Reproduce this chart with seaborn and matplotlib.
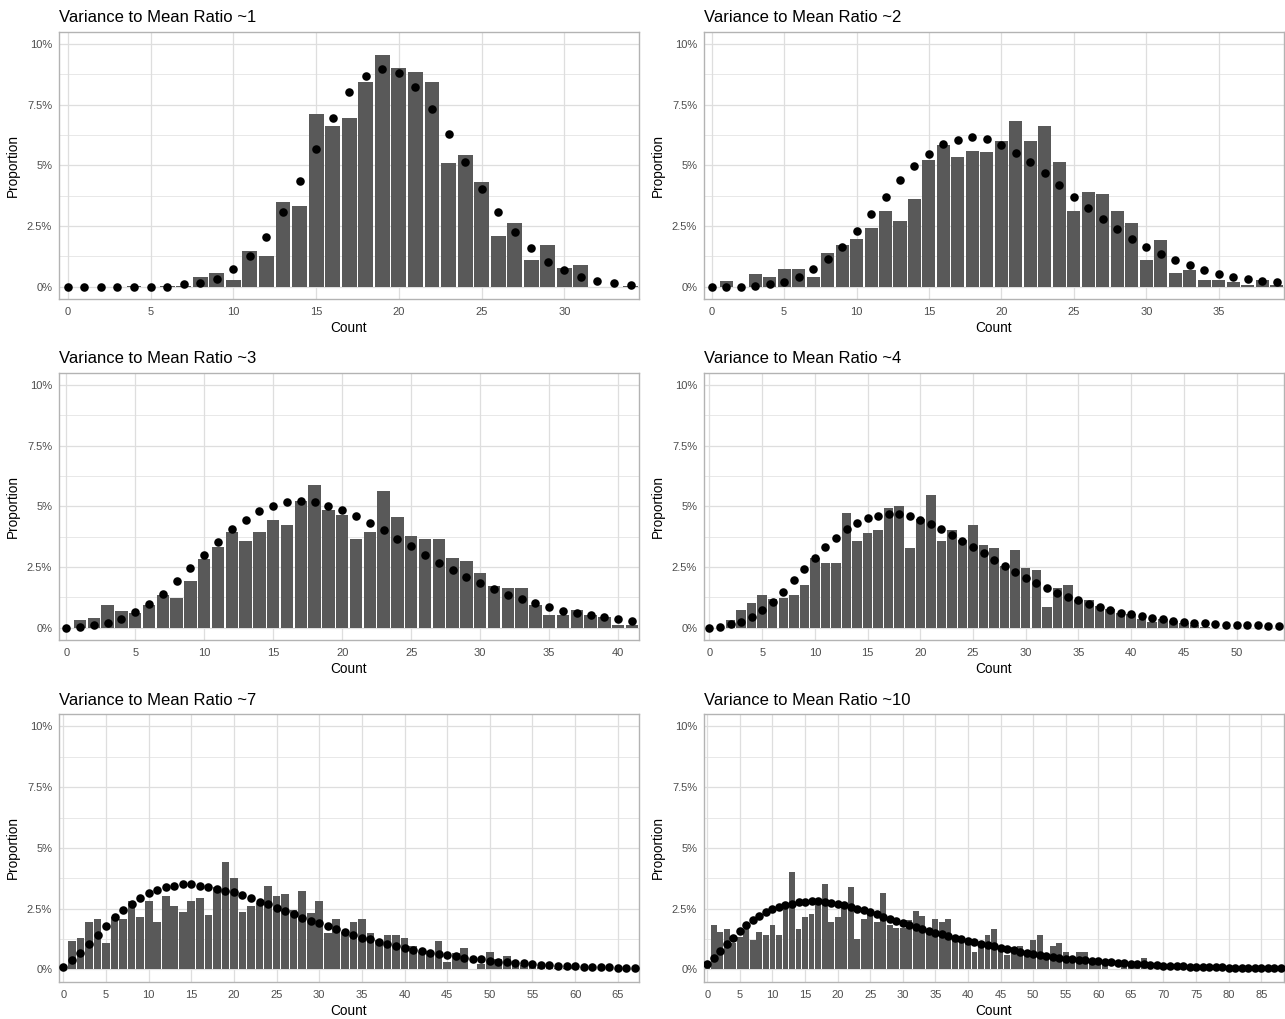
import numpy as np
import pandas as pd
import matplotlib
matplotlib.use("Agg")
import matplotlib.pyplot as plt
from matplotlib.ticker import FixedLocator
import seaborn as sns

# --- data: observed proportions (bars) and fitted proportions (dots), in % ---
titles = ["Variance to Mean Ratio ~1", "Variance to Mean Ratio ~2",
          "Variance to Mean Ratio ~3", "Variance to Mean Ratio ~4",
          "Variance to Mean Ratio ~7", "Variance to Mean Ratio ~10"]

p1_bars = [0, 0, 0, 0, 0.03, 0, 0.03, 0.05, 0.41, 0.59, 0.28, 1.49, 1.29, 3.51, 3.31, 7.12, 6.62, 6.95,
           8.45, 9.53, 9.02, 8.84, 8.45, 5.09, 5.42, 4.32, 2.10, 2.61, 1.10, 1.71, 0.78, 0.89, 0, 0, 0.05]
p1_dots = [0, 0, 0, 0, 0, 0, 0, 0.11, 0.17, 0.34, 0.72, 1.28, 2.05, 3.09, 4.36, 5.67, 6.96, 8.0,
           8.69, 8.98, 8.79, 8.24, 7.33, 6.29, 5.12, 4.03, 3.07, 2.24, 1.58, 1.03, 0.69, 0.41, 0.25, 0.14, 0.06]

p2_bars = [0, 0.26, 0, 0.51, 0.39, 0.72, 0.72, 0.39, 1.40, 1.72, 1.98, 2.42, 3.11, 2.70, 3.62, 5.21, 5.83, 5.34,
           5.60, 5.53, 6.02, 6.81, 6.02, 6.60, 5.13, 3.12, 3.92, 3.81, 3.12, 2.61, 1.10, 1.93, 0.59, 0.70,
           0.28, 0.28, 0.19, 0.07, 0.28, 0.07]
p2_dots = [0, 0, 0, 0.04, 0.10, 0.19, 0.41, 0.74, 1.13, 1.65, 2.30, 2.98, 3.69, 4.39, 4.98, 5.47, 5.86, 6.05,
           6.15, 6.07, 5.82, 5.52, 5.12, 4.70, 4.20, 3.71, 3.26, 2.79, 2.37, 1.98, 1.65, 1.35, 1.09, 0.88,
           0.70, 0.54, 0.41, 0.34, 0.26, 0.18]

p3_bars = [0, 0.33, 0.41, 0.92, 0.71, 0.60, 0.92, 1.34, 1.23, 1.93, 2.85, 3.32, 3.95, 3.57, 3.95, 4.44, 4.25,
           5.24, 5.86, 4.84, 4.64, 3.65, 3.95, 5.65, 4.57, 3.76, 3.64, 3.64, 2.87, 2.74, 2.24, 1.74, 1.63,
           1.63, 0.92, 0.53, 0.53, 0.73, 0.53, 0.43, 0.12, 0.12]
p3_dots = [0, 0.03, 0.10, 0.18, 0.38, 0.64, 0.97, 1.40, 1.93, 2.46, 3.00, 3.55, 4.05, 4.44, 4.79, 5.02, 5.17,
           5.21, 5.19, 5.02, 4.86, 4.60, 4.32, 4.02, 3.66, 3.35, 2.99, 2.67, 2.37, 2.11, 1.84, 1.60, 1.37,
           1.19, 1.03, 0.86, 0.71, 0.60, 0.52, 0.44, 0.37, 0.29]

p4_bars = [0, 0, 0.33, 0.73, 1.04, 1.34, 1.18, 1.23, 1.34, 1.77, 2.89, 2.66, 2.66, 4.72, 3.59, 3.91, 4.02,
           4.95, 5.03, 3.28, 4.47, 5.46, 3.59, 4.02, 3.60, 4.22, 3.40, 3.29, 2.55, 3.21, 2.48, 2.37, 0.85,
           1.65, 1.77, 1.15, 1.15, 0.91, 0.77, 0.60, 0.55, 0.38, 0.25, 0.38, 0.29, 0.20, 0.10, 0.05,
           0, 0, 0, 0, 0, 0, 0]
p4_dots = [0, 0.05, 0.14, 0.25, 0.45, 0.74, 1.08, 1.48, 1.95, 2.41, 2.88, 3.31, 3.69, 4.05, 4.32, 4.51, 4.62,
           4.68, 4.68, 4.60, 4.43, 4.29, 4.05, 3.81, 3.58, 3.32, 3.09, 2.81, 2.55, 2.30, 2.07, 1.84, 1.65,
           1.45, 1.29, 1.14, 0.99, 0.86, 0.75, 0.63, 0.55, 0.48, 0.41, 0.36, 0.29, 0.25, 0.21, 0.18, 0.16,
           0.12, 0.12, 0.10, 0.10, 0.08, 0.07]

p5_bars = [0.05, 1.17, 1.29, 1.95, 2.06, 1.07, 2.14, 2.06, 2.80, 2.14, 2.80, 1.95, 3.02, 2.61, 2.38, 2.80,
           2.93, 2.25, 3.38, 4.44, 3.76, 2.38, 2.61, 2.75, 3.45, 3.04, 3.12, 2.45, 3.24, 2.31, 2.80, 1.51,
           2.06, 1.55, 1.95, 2.06, 1.51, 1.20, 1.40, 1.40, 1.28, 0.98, 0.70, 0.77, 1.17, 0.30, 0.66, 0.87,
           0, 0.21, 0.73, 0.41, 0.55, 0.25, 0.20, 0.15, 0.10, 0.10, 0.05, 0.05, 0.10, 0, 0, 0, 0, 0, 0, 0]
p5_dots = [0.11, 0.38, 0.69, 1.03, 1.40, 1.79, 2.14, 2.45, 2.71, 2.94, 3.13, 3.26, 3.38, 3.45, 3.50, 3.50,
           3.45, 3.39, 3.31, 3.24, 3.19, 3.07, 2.95, 2.79, 2.68, 2.54, 2.42, 2.28, 2.13, 2.01, 1.90, 1.77,
           1.66, 1.55, 1.41, 1.30, 1.24, 1.13, 1.04, 0.96, 0.89, 0.80, 0.76, 0.69, 0.63, 0.58, 0.54, 0.49,
           0.45, 0.41, 0.36, 0.32, 0.29, 0.26, 0.25, 0.21, 0.19, 0.18, 0.15, 0.15, 0.14, 0.12, 0.11, 0.11,
           0.10, 0.08, 0.08, 0.07]

p6_bars = [0.1, 1.83, 1.55, 1.68, 1.07, 1.33, 1.65, 1.21, 1.55, 1.43, 1.83, 1.43, 2.72, 4.00, 1.68, 2.17,
           2.29, 2.69, 3.50, 1.95, 2.17, 2.69, 3.38, 1.24, 2.07, 2.50, 1.95, 3.13, 1.84, 1.69, 1.69, 2.03,
           2.40, 2.18, 1.59, 2.07, 1.95, 2.07, 1.28, 1.21, 1.07, 0.73, 1.07, 1.43, 1.68, 0.82, 0.59, 0.93,
           0.96, 0.73, 1.21, 1.43, 0.66, 0.96, 1.07, 0.73, 0.25, 0.73, 0.73, 0.45, 0.38, 0.32, 0, 0, 0.20,
           0.25, 0.15, 0.47, 0.20, 0.15, 0.10, 0.05, 0, 0, 0, 0, 0, 0, 0, 0, 0, 0, 0, 0, 0, 0, 0, 0, 0]
p6_dots = [0.22, 0.48, 0.76, 1.04, 1.30, 1.59, 1.83, 2.03, 2.20, 2.35, 2.47, 2.57, 2.65, 2.71, 2.76, 2.79,
           2.80, 2.80, 2.77, 2.73, 2.69, 2.64, 2.57, 2.50, 2.43, 2.35, 2.27, 2.17, 2.09, 2.01, 1.92, 1.84,
           1.76, 1.68, 1.59, 1.52, 1.44, 1.37, 1.30, 1.24, 1.17, 1.11, 1.06, 1.00, 0.95, 0.89, 0.84, 0.78,
           0.73, 0.69, 0.65, 0.60, 0.56, 0.52, 0.49, 0.45, 0.43, 0.40, 0.37, 0.34, 0.33, 0.30, 0.29, 0.26,
           0.25, 0.23, 0.22, 0.21, 0.19, 0.18, 0.16, 0.15, 0.15, 0.14, 0.12, 0.12, 0.11, 0.11, 0.10, 0.10,
           0.08, 0.08, 0.08, 0.07, 0.07, 0.05, 0.05, 0.05, 0.04]

all_bars = [p1_bars, p2_bars, p3_bars, p4_bars, p5_bars, p6_bars]
all_dots = [p1_dots, p2_dots, p3_dots, p4_dots, p5_dots, p6_dots]

y_ticks = [0, 2.5, 5, 7.5, 10]
y_tick_labels = ["0%", "2.5%", "5%", "7.5%", "10%"]

# --- style ---
sns.set_theme(style="white")
plt.rcParams['font.family'] = ['Liberation Sans', 'DejaVu Sans']

BAR_COLOR = "#595959"
GRID = "#DEDEDE"
BORDER = "#B3B3B3"
TICK_TXT = "#4D4D4D"

W, H = 1285, 1019
fig = plt.figure(figsize=(W / 100, H / 100), dpi=100)

col_left = [58.7, 703.7]
panel_w = 580.5
row_top = [31.7, 372.7, 714.3]
panel_h = 267.3

for i, (title, bars, dots) in enumerate(zip(titles, all_bars, all_dots)):
    row, col = divmod(i, 2)
    ax = fig.add_axes([col_left[col] / W, 1 - (row_top[row] + panel_h) / H, panel_w / W, panel_h / H])

    n = len(bars)
    df = pd.DataFrame({"Count": np.arange(n), "observed": bars, "fitted": dots})

    sns.barplot(data=df, x="Count", y="observed", native_scale=True, color=BAR_COLOR,
                saturation=1, width=0.9, errorbar=None, ax=ax, zorder=2, linewidth=0)
    sns.scatterplot(data=df, x="Count", y="fitted", color="black", s=38, linewidth=0,
                    ax=ax, zorder=3)

    ax.set_xlim(-0.55, n - 1 + 0.52)
    ax.set_ylim(-0.5, 10.5)
    ax.set_xticks(list(range(0, n, 5)))
    ax.set_xticklabels([str(v) for v in range(0, n, 5)])
    ax.set_yticks(y_ticks)
    ax.set_yticklabels(y_tick_labels)
    ax.yaxis.set_minor_locator(FixedLocator([1.25, 3.75, 6.25, 8.75]))

    ax.set_axisbelow(True)
    ax.grid(which="major", color=GRID, linewidth=0.9)
    ax.grid(which="minor", axis="y", color=GRID, linewidth=0.5)
    ax.tick_params(which="major", length=2.2, width=0.6, color=BORDER, labelsize=8,
                   labelcolor=TICK_TXT, pad=2.5)
    ax.tick_params(axis="x", pad=3.5)
    ax.tick_params(which="minor", length=0)
    for sp in ax.spines.values():
        sp.set_color(BORDER)
        sp.set_linewidth(1.0)

    ax.set_xlabel("Count", fontsize=9.8, color="black", labelpad=3)
    ax.set_ylabel("Proportion", fontsize=9.8, color="black", labelpad=5)
    ax.set_title(title, loc="left", fontsize=12, color="black", pad=7)

fig.savefig("out.png", dpi=100)
